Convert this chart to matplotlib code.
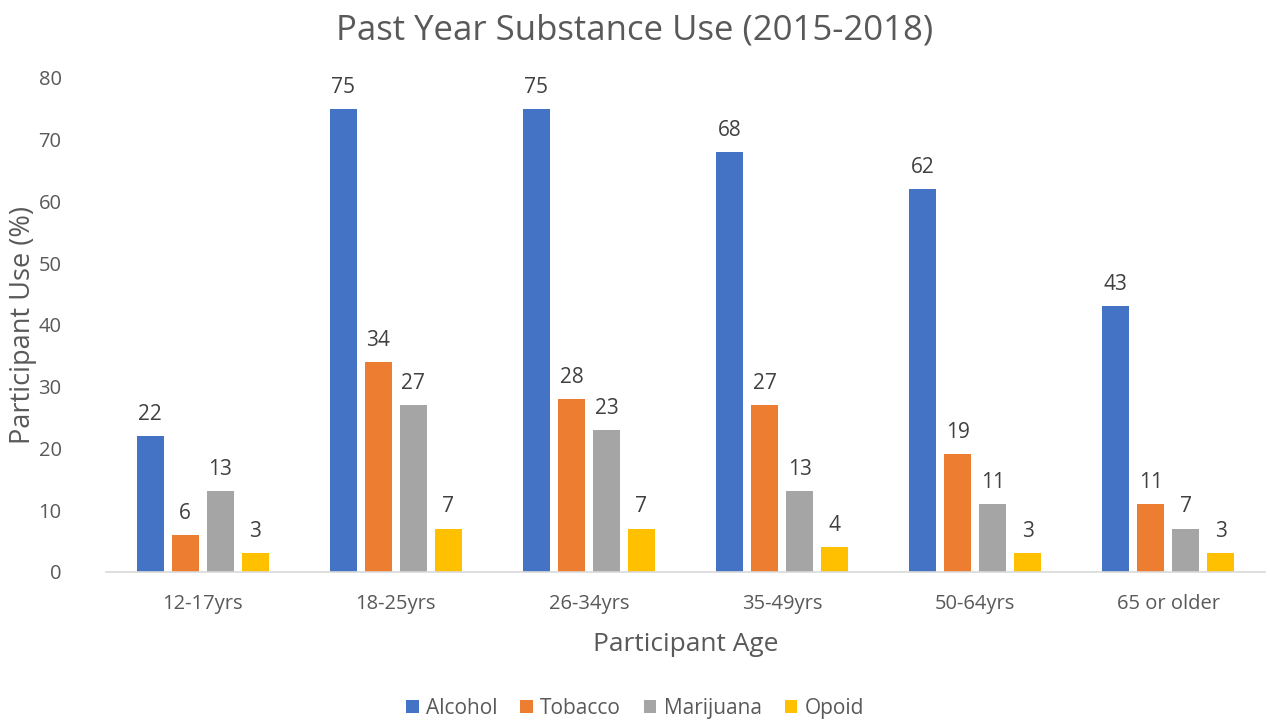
import matplotlib
matplotlib.use("Agg")
import matplotlib.pyplot as plt
import numpy as np

categories = ["12-17yrs", "18-25yrs", "26-34yrs", "35-49yrs", "50-64yrs", "65 or older"]
series_names = ["Alcohol", "Tobacco", "Marijuana", "Opoid"]
alcohol = [22, 75, 75, 68, 62, 43]
tobacco = [6, 34, 28, 27, 19, 11]
marijuana = [13, 27, 23, 13, 11, 7]
opoid = [3, 7, 7, 4, 3, 3]
colors = ["#4472C4", "#ED7D31", "#A5A5A5", "#FFC000"]
yticks = [0, 10, 20, 30, 40, 50, 60, 70, 80]

plt.rcParams['font.family'] = ['Open Sans', 'DejaVu Sans']
txt = "#595959"

fig = plt.figure(figsize=(12.7, 7.21), dpi=100)
ax = fig.add_axes([0.0835, 0.207, 0.9125, 0.685])

x = np.arange(len(categories))
step = 0.181
width = 0.14
data = [alcohol, tobacco, marijuana, opoid]
for i, (name, vals, c) in enumerate(zip(series_names, data, colors)):
    pos = x + (i - 1.5) * step
    ax.bar(pos, vals, width, color=c, label=name, zorder=2)
    for p, v in zip(pos, vals):
        ax.annotate(str(v), (p, v), xytext=(0, 8), textcoords="offset points",
                    ha="center", va="bottom", fontsize=15, color="#404040")

ax.set_xlim(-0.5, len(categories) - 0.5)
ax.set_ylim(0, 80)
ax.set_yticks(yticks)
ax.set_xticks(x)
ax.set_xticklabels(categories)
ax.tick_params(axis="both", length=0, labelsize=14.5, colors=txt)
ax.tick_params(axis="y", pad=32)
ax.tick_params(axis="x", pad=16)
for s in ["top", "right", "left"]:
    ax.spines[s].set_visible(False)
ax.spines["bottom"].set_color("#D9D9D9")
ax.spines["bottom"].set_linewidth(1.2)

ax.set_ylabel("Participant Use (%)", fontsize=19.5, color=txt)
ax.yaxis.set_label_coords(-0.06, 0.5)
ax.set_xlabel("Participant Age", fontsize=19, color=txt, labelpad=13)
fig.text(0.5, 0.958, "Past Year Substance Use (2015-2018)", ha="center", va="center",
         fontsize=25, color=txt)

leg = fig.legend(loc="center", bbox_to_anchor=(0.5, 0.018), ncol=4, frameon=False,
                 fontsize=15, handlelength=0.6, handleheight=0.6, handletextpad=0.35,
                 columnspacing=1.1)
for t in leg.get_texts():
    t.set_color(txt)

fig.savefig("out.png", dpi=100)
